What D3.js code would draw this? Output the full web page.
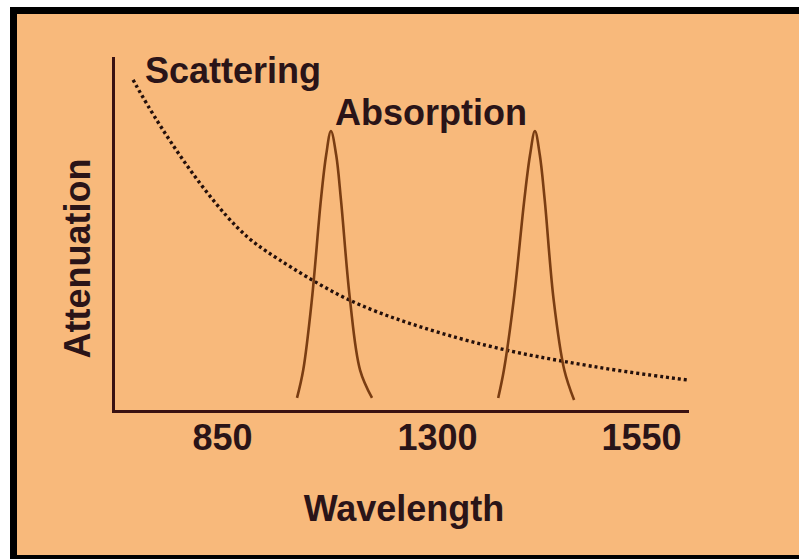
<!DOCTYPE html>
<html>
<head>
<meta charset="utf-8">
<script src="https://cdn.jsdelivr.net/npm/d3@7"></script>
<style>
  html, body { margin: 0; padding: 0; background: #ffffff; }
  svg { display: block; }
  text { font-family: "Liberation Sans", Arial, Helvetica, sans-serif; font-weight: bold; fill: #2a1418; }
</style>
</head>
<body>
<svg id="chart" width="799" height="559"></svg>
<script>
// Wavelength axis (nm) — labelled ticks and the drawn extent of the axis
const wavelengthTicks = [850, 1300, 1550];
const axisWavelengthMin = 622;
const axisWavelengthMax = 1606;

// Relative attenuation (arbitrary units, 0–100)
const attenuationMax = 100;

// Rayleigh scattering loss, falling with wavelength
const scatterWavelength  = [664, 699, 783, 888, 957, 1097, 1223, 1328, 1393, 1451, 1524, 1606];
const scatterAttenuation = [93.8, 85.3, 67.7, 50.1, 43.9, 32.0, 25.5, 20.4, 16.7, 14.2, 11.3, 8.8];

// First absorption peak
const peak1Wavelength  = [1007, 1020, 1038, 1057, 1068, 1078, 1089, 1099, 1118, 1139, 1164];
const peak1Attenuation = [3.7, 11.6, 31.4, 59.8, 72.5, 79.3, 72.5, 59.8, 31.4, 11.6, 3.7];

// Second absorption peak
const peak2Wavelength  = [1375, 1382, 1394, 1407, 1414, 1420, 1426, 1432, 1443, 1456, 1468];
const peak2Attenuation = [3.7, 11.6, 31.4, 59.8, 72.5, 79.3, 72.5, 59.8, 31.4, 11.6, 3.1];

const svg = d3.select("#chart");
const W = 799, H = 559;

// Framed panel
svg.append("rect").attr("x", 10).attr("y", 7).attr("width", W - 10).attr("height", H - 7).attr("fill", "#000");
svg.append("rect").attr("x", 17).attr("y", 14).attr("width", W - 17).attr("height", 541).attr("fill", "#f8b97b");

// Piecewise-linear wavelength scale: labelled wavelengths are spaced evenly on the schematic
const x = d3.scaleLinear()
  .domain([axisWavelengthMin, ...wavelengthTicks, axisWavelengthMax])
  .range([113, 222, 437, 641, 687]);

const y = d3.scaleLinear()
  .domain([0, attenuationMax])
  .range([411, 58]);

const axisColor = "#3a1212";

// X axis
const gx = svg.append("g")
  .attr("transform", `translate(0,${y(0)})`)
  .call(d3.axisBottom(x).tickValues(wavelengthTicks).tickSize(0).tickSizeOuter(0).tickFormat(d3.format("d")));
gx.select(".domain").attr("stroke", axisColor).attr("stroke-width", 3).attr("stroke-linecap", "square");
gx.selectAll("text")
  .attr("y", 39).attr("dy", null)
  .attr("fill", "#2a1418")
  .style("font-size", "36px")
  .style("font-family", '"Liberation Sans", Arial, sans-serif')
  .style("font-weight", "bold");

// Y axis (no ticks)
const gy = svg.append("g")
  .attr("transform", `translate(${x(axisWavelengthMin)},0)`)
  .call(d3.axisLeft(y).tickValues([]).tickSizeOuter(0));
gy.select(".domain").attr("stroke", axisColor).attr("stroke-width", 3).attr("stroke-linecap", "square");

// Scattering curve (dotted)
const scatterLine = d3.line()
  .x((d, i) => x(scatterWavelength[i]))
  .y((d, i) => y(scatterAttenuation[i]))
  .curve(d3.curveBasis);
svg.append("path")
  .attr("d", scatterLine(scatterWavelength))
  .attr("fill", "none")
  .attr("stroke", "#24100c")
  .attr("stroke-width", 3.4)
  .attr("stroke-dasharray", "3 3");

// Absorption peaks
const peakLine = (wl, att) => d3.line()
  .x((d, i) => x(wl[i]))
  .y((d, i) => y(att[i]))
  .curve(d3.curveCatmullRom.alpha(0.5))(wl);

[[peak1Wavelength, peak1Attenuation], [peak2Wavelength, peak2Attenuation]].forEach(([wl, att]) => {
  svg.append("path")
    .attr("d", peakLine(wl, att))
    .attr("fill", "none")
    .attr("stroke", "#7a3d12")
    .attr("stroke-width", 2.6)
    .attr("stroke-linejoin", "round");
});

// Curve labels
svg.append("text").attr("x", 145).attr("y", 83).style("font-size", "36px").text("Scattering");
svg.append("text").attr("x", 335).attr("y", 125).style("font-size", "36px").text("Absorption");

// Axis titles
svg.append("text")
  .attr("x", 404).attr("y", 521)
  .attr("text-anchor", "middle")
  .style("font-size", "36px")
  .text("Wavelength");

svg.append("text")
  .attr("transform", `translate(90,${(y(0) + y(attenuationMax)) / 2 + 24}) rotate(-90)`)
  .attr("text-anchor", "middle")
  .style("font-size", "36px")
  .text("Attenuation");
</script>
</body>
</html>
